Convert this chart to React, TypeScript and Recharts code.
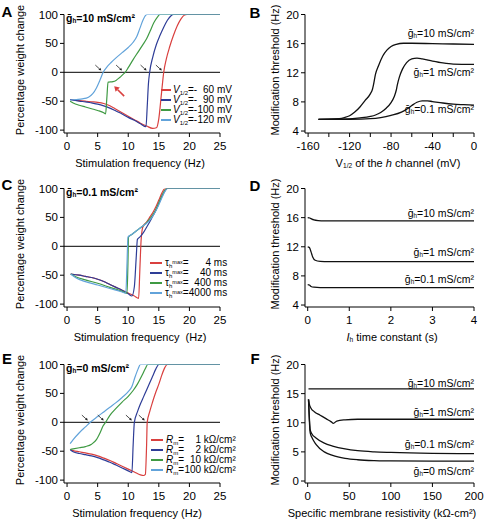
import React from 'react';
import { LineChart, Line, XAxis, YAxis, ReferenceLine, ReferenceDot } from 'recharts';

const FONT = '"Liberation Sans", Arial, Helvetica, sans-serif';
const COLORS = ['#d9403f', '#2e3d97', '#3f9a43', '#62a3da'];

// A: gh = 10 mS/cm2, different V1/2 (frequency Hz, % weight change)
const aV60: [number, number][] = [[0.5,-47],[1,-48],[2,-49],[3,-50],[4,-51],[5,-52],[6,-54],[7,-58],[8,-64],[9,-70],[10,-76],[11,-82],[12,-88],[13,-93],[14,-97],[14.6,-96],[15,-80],[15.4,-40],[15.8,0],[16.2,22],[16.8,45],[17.4,64],[18,80],[18.6,92],[19.2,99],[19.6,100],[25,100]];
const aV90: [number, number][] = [[0.5,-47],[1,-48],[2,-50],[3,-51],[4,-53],[5,-55],[6,-58],[7,-62],[8,-67],[9,-72],[10,-78],[11,-83],[12,-89],[12.9,-94],[13.1,-60],[13.3,-20],[13.5,0],[14,26],[14.6,48],[15.2,64],[15.8,78],[16.4,90],[17,98],[17.4,100],[25,100]];
const aV100: [number, number][] = [[0.5,-50],[1,-53],[2,-57],[3,-60],[4,-63],[5,-66],[6,-70],[6.3,-72],[6.5,-45],[6.7,-17],[7.5,-16],[8,-14],[8.6,-9],[9.1,-4],[9.5,0],[10,8],[10.8,22],[11.6,35],[12.4,48],[13,58],[13.6,72],[14.2,86],[14.8,96],[15.2,100],[25,100]];
const aV120: [number, number][] = [[0.5,-48],[1.5,-47],[2.5,-46],[3.5,-43],[4.2,-37],[4.8,-27],[5.4,-13],[5.9,0],[6.5,9],[7.2,17],[8,25],[9,34],[10,43],[10.8,52],[11.4,62],[11.9,76],[12.4,90],[12.8,98],[13.1,100],[25,100]];

// C: gh = 0.1 mS/cm2, different tau_h max
const cTau4: [number, number][] = [[0.6,-48],[2,-50],[3,-52],[4,-54],[5,-57],[6,-61],[7,-66],[8,-71],[9,-76],[10,-81],[11,-86],[11.7,-90],[11.9,-40],[12.1,10],[12.3,30],[12.5,36],[13,42],[13.5,50],[14,58],[14.5,68],[15,80],[15.5,92],[15.9,99],[16.2,100],[25,100]];
const cTau40: [number, number][] = [[0.6,-48],[2,-50],[3,-52],[4,-54],[5,-57],[6,-61],[7,-66],[8,-71],[9,-76],[10,-82],[10.6,-86],[11,-70],[11.3,-20],[11.5,12],[12,17],[12.5,24],[13,33],[13.5,42],[14,52],[14.5,62],[15,74],[15.5,86],[16,96],[16.4,100],[25,100]];
const cTau400: [number, number][] = [[0.6,-48],[1.5,-53],[3,-58],[5,-64],[7,-71],[9,-78],[9.8,-81],[9.95,-30],[10.05,16],[10.5,20],[11,24],[11.5,28],[12,32],[12.5,36],[13,41],[13.5,47],[14,54],[14.5,63],[15,75],[15.5,87],[16,97],[16.3,100],[25,100]];
const cTau4000: [number, number][] = [[0.6,-48],[1.5,-55],[3,-61],[5,-67],[7,-73],[9,-79],[9.6,-81],[9.8,-30],[9.95,16],[10.5,20],[11,24],[11.5,28],[12,32],[12.5,36],[13,40],[13.5,45],[14,52],[14.5,61],[15,72],[15.5,84],[16,95],[16.4,100],[25,100]];

// E: gh = 0, different Rm
const eRm1: [number, number][] = [[0.5,-47],[1,-49],[2,-51],[3,-53],[4,-55],[5,-58],[6,-62],[7,-66],[8,-71],[9,-76],[10,-81],[11,-86],[12,-91],[12.5,-92],[12.8,-90],[13,-40],[13.1,0],[13.5,18],[14,36],[14.5,52],[15,66],[15.5,82],[16,95],[16.4,100],[25,100]];
const eRm2: [number, number][] = [[0.5,-47],[1,-51],[2,-54],[3,-56],[4,-58],[5,-61],[6,-65],[7,-69],[8,-74],[9,-79],[10,-84],[10.6,-87],[10.8,-40],[11,0],[11.5,18],[12,32],[12.5,44],[13,56],[13.5,68],[14,80],[14.5,92],[15,100],[25,100]];
const eRm10: [number, number][] = [[0.5,-47],[1,-46],[2,-44],[3,-42],[4,-38],[4.8,-30],[5.4,-18],[5.9,-6],[6.3,0],[7,12],[8,24],[9,35],[10,45],[10.8,55],[11.5,66],[12.2,80],[12.8,93],[13.2,100],[25,100]];
const eRm100: [number, number][] = [[0.5,-37],[1,-30],[2,-18],[3,-8],[3.8,0],[5,10],[6,18],[7,26],[8,34],[9,43],[10,53],[10.6,62],[11.1,78],[11.6,92],[12,100],[25,100]];

// B: threshold vs V1/2
const bG10: [number, number][] = [[-150,5.6],[-140,5.62],[-130,5.7],[-125,5.85],[-120,6.1],[-115,6.6],[-110,7.3],[-105,8.2],[-100,9.1],[-98,9.7],[-97,10.3],[-95,11.8],[-92,13.0],[-88,14.3],[-84,15.1],[-80,15.6],[-75,15.9],[-68,16.05],[-60,16.05],[-40,16.0],[-20,15.95],[0,15.9]];
const bG1: [number, number][] = [[-150,5.6],[-130,5.62],[-120,5.68],[-110,5.8],[-100,6.0],[-95,6.2],[-90,6.55],[-85,7.1],[-80,7.9],[-77,8.7],[-75,9.6],[-74,10.3],[-72,11.4],[-69,12.5],[-65,13.4],[-60,13.9],[-55,14.0],[-50,13.9],[-40,13.6],[-30,13.35],[-20,13.2],[0,13.15]];
const bG01: [number, number][] = [[-150,5.6],[-120,5.62],[-100,5.7],[-90,5.85],[-80,6.15],[-70,6.6],[-65,7.0],[-60,7.5],[-55,7.95],[-50,8.15],[-45,8.15],[-40,8.05],[-30,7.85],[-20,7.7],[-10,7.62],[0,7.55]];

// D: threshold vs Ih time constant
const dG10: [number, number][] = [[0,16.0],[0.05,15.95],[0.1,15.8],[0.15,15.7],[0.25,15.6],[0.4,15.55],[1,15.55],[4,15.55]];
const dG1: [number, number][] = [[0,12.0],[0.04,11.9],[0.08,11.3],[0.12,10.6],[0.18,10.15],[0.3,10.0],[0.5,9.95],[1,9.95],[4,9.95]];
const dG01: [number, number][] = [[0,6.8],[0.04,6.75],[0.08,6.55],[0.15,6.45],[0.3,6.4],[4,6.4]];

// F: threshold vs membrane resistivity
const fG10: [number, number][] = [[1,15.8],[50,15.8],[100,15.8],[200,15.8]];
const fG1: [number, number][] = [[1,14.0],[2,13.2],[4,12.5],[8,11.9],[15,11.3],[22,10.7],[28,10.2],[31,9.9],[35,10.3],[45,10.5],[60,10.6],[100,10.6],[200,10.6]];
const fG01: [number, number][] = [[1,14.0],[2,11],[3,8.8],[5,8.1],[10,7.4],[20,6.5],[30,6.0],[45,5.5],[60,5.2],[80,5.0],[100,4.9],[150,4.75],[200,4.7]];
const fG0: [number, number][] = [[1,14.0],[2,10.5],[3,8.3],[5,7.5],[10,6.3],[20,5.0],[30,4.4],[45,3.9],[60,3.65],[80,3.5],[100,3.45],[150,3.4],[200,3.4]];

// ticks
const freqTicks = [0, 5, 10, 15, 20, 25];
const pctTicks = [-100, -50, 0, 50, 100];
const vhTicks = [-160, -140, -120, -100, -80, -60, -40, -20, 0];
const thrTicks = [4, 8, 12, 16, 20];
const tauTicks = [0, 1, 2, 3, 4];
const rmTicks = [0, 50, 100, 150, 200];
const thrTicksF = [0, 5, 10, 15, 20];

// legend / label text
const vHalfLabels = ['60', '90', '100', '120'];
const tauLabels = ['4', '40', '400', '4000'];
const rmLabels = ['1', '2', '10', '100'];
const ghLabels3 = ['10', '1', '0.1'];
const ghLabels4 = ['10', '1', '0.1', '0'];

// zero-crossing arrows
const aArrows = [5.6, 9.0, 13.0, 15.5];
const eArrows = [3.4, 6.0, 10.6, 12.7];

const pts = (p: [number, number][]) => p.map(([x, y]) => ({ x, y }));

const Sub = ({ children }: { children: React.ReactNode }) => (
  <span style={{ fontSize: '0.6em', verticalAlign: '-0.25em', lineHeight: 0 }}>{children}</span>
);
const Sup = ({ children }: { children: React.ReactNode }) => (
  <span style={{ fontSize: '0.55em', verticalAlign: '0.45em', lineHeight: 0 }}>{children}</span>
);
const GLabel = ({ v }: { v: string }) => (
  <>ḡ<Sub>h</Sub>={v} mS/cm²</>
);

function arrowShape(color: string, dx: number, dy: number, w: number, hl: number, hw: number) {
  return (p: any) => {
    const { cx, cy } = p;
    const x0 = cx + dx;
    const y0 = cy + dy;
    const a = Math.atan2(cy - y0, cx - x0);
    const bx = cx - hl * Math.cos(a);
    const by = cy - hl * Math.sin(a);
    const s = Math.sin(a);
    const c = Math.cos(a);
    return (
      <g>
        <line x1={x0} y1={y0} x2={bx} y2={by} stroke={color} strokeWidth={w} />
        <polygon
          points={`${cx},${cy} ${bx - hw * s},${by + hw * c} ${bx + hw * s},${by - hw * c}`}
          fill={color}
        />
      </g>
    );
  };
}

interface Series {
  data: [number, number][];
  color: string;
  w?: number;
}

interface PanelProps {
  left: number;
  top: number;
  axisX: number;
  plotRight: number;
  xDomain: [number, number];
  xTicks: number[];
  xFmt?: (v: number) => string;
  yDomain: [number, number];
  yTicks: number[];
  series: Series[];
  zeroLine?: boolean;
  arrows?: number[];
  redArrow?: [number, number];
}

function Panel({ left, top, axisX, plotRight, xDomain, xTicks, xFmt, yDomain, yTicks, series, zeroLine, arrows, redArrow }: PanelProps) {
  const tick = { fill: '#000', fontSize: 11.5, fontFamily: FONT };
  return (
    <div style={{ position: 'absolute', left, top }}>
      <LineChart width={242} height={165} margin={{ top: 14.5, right: 242 - plotRight, bottom: 2, left: 0 }}>
        <XAxis
          type="number"
          dataKey="x"
          domain={xDomain}
          ticks={xTicks}
          interval={0}
          allowDataOverflow
          tickFormatter={xFmt}
          height={30}
          tickSize={4}
          tickMargin={5}
          axisLine={{ stroke: '#000' }}
          tickLine={{ stroke: '#000' }}
          tick={tick}
        />
        <YAxis
          type="number"
          domain={yDomain}
          ticks={yTicks}
          interval={0}
          allowDataOverflow
          width={axisX}
          tickSize={4}
          tickMargin={2}
          axisLine={{ stroke: '#000' }}
          tickLine={{ stroke: '#000' }}
          tick={tick}
        />
        {zeroLine && <ReferenceLine y={0} stroke="#000" strokeWidth={1} />}
        {series.map((s, i) => (
          <Line
            key={i}
            data={pts(s.data)}
            dataKey="y"
            type="monotone"
            stroke={s.color}
            strokeWidth={s.w ?? 1.2}
            dot={false}
            isAnimationActive={false}
          />
        ))}
        {arrows?.map((x, i) => (
          <ReferenceDot key={'a' + i} x={x} y={3} r={0} shape={arrowShape('#222', -6, -5.5, 0.8, 2.6, 1.4)} />
        ))}
        {redArrow && (
          <ReferenceDot x={redArrow[0]} y={redArrow[1]} r={0} shape={arrowShape(COLORS[0], 10, 10, 1.6, 5, 3)} />
        )}
      </LineChart>
    </div>
  );
}

const T = ({ x, y, anchor = 'start', children, style }: { x: number; y: number; anchor?: string; children: React.ReactNode; style?: React.CSSProperties }) => {
  const tx = anchor === 'end' ? '-100%' : anchor === 'middle' ? '-50%' : '0';
  return (
    <div style={{ position: 'absolute', left: x, top: y, transform: `translate(${tx}, -50%)`, whiteSpace: 'pre', lineHeight: 1, ...style }}>
      {children}
    </div>
  );
};

const YTitle = ({ x, y, children }: { x: number; y: number; children: React.ReactNode }) => (
  <div style={{ position: 'absolute', left: x, top: y, transform: 'translate(-50%, -50%) rotate(-90deg)', whiteSpace: 'nowrap', lineHeight: 1, fontSize: 11 }}>
    {children}
  </div>
);

const Letter = ({ x, y, children }: { x: number; y: number; children: React.ReactNode }) => (
  <div style={{ position: 'absolute', left: x, top: y, transform: 'translate(-50%, -50%)', fontWeight: 'bold', fontSize: 15, lineHeight: 1 }}>
    {children}
  </div>
);

function LegendRows({ x0, len, tx, y0, labels, numW, render }: { x0: number; len: number; tx: number; y0: number; labels: string[]; numW: string; render: (n: React.ReactNode) => React.ReactNode }) {
  return (
    <>
      {labels.map((l, i) => (
        <React.Fragment key={i}>
          <div style={{ position: 'absolute', left: x0, top: y0 + i * 10 - 1, width: len, height: 2, background: COLORS[i] }} />
          <T x={tx} y={y0 + i * 10} style={{ fontSize: 10 }}>
            {render(<span style={{ display: 'inline-block', width: numW, textAlign: 'right' }}>{l}</span>)}
          </T>
        </React.Fragment>
      ))}
    </>
  );
}

export default function App() {
  const colorSeries = (arr: [number, number][][]) => arr.map((d, i) => ({ data: d, color: COLORS[i] }));
  const black = (arr: [number, number][][]) => arr.map((d) => ({ data: d, color: '#111', w: 1.3 }));
  const minorFmt = (v: number) => (v % 40 === 0 ? String(v) : '');
  return (
    <div style={{ position: 'absolute', left: 0, top: 0, width: 484, height: 519, overflow: 'hidden', background: '#fff', fontFamily: FONT, color: '#000' }}>
      {/* A */}
      <Panel left={0} top={0} axisX={64} plotRight={220} xDomain={[-0.5, 25]} xTicks={freqTicks} yDomain={[-105, 100]} yTicks={pctTicks}
        series={colorSeries([aV60, aV90, aV100, aV120])} zeroLine arrows={aArrows} redArrow={[7.7, -24]} />
      {/* B */}
      <Panel left={242} top={0} axisX={63} plotRight={232} xDomain={[-163, 0]} xTicks={vhTicks} xFmt={minorFmt} yDomain={[3.73, 20]} yTicks={thrTicks}
        series={black([bG10, bG1, bG01])} />
      {/* C */}
      <Panel left={0} top={174} axisX={64} plotRight={220} xDomain={[-0.5, 25]} xTicks={freqTicks} yDomain={[-105, 100]} yTicks={pctTicks}
        series={colorSeries([cTau4, cTau40, cTau400, cTau4000])} zeroLine />
      {/* D */}
      <Panel left={242} top={174} axisX={63} plotRight={232} xDomain={[-0.065, 4]} xTicks={tauTicks} yDomain={[3.73, 20]} yTicks={thrTicks}
        series={black([dG10, dG1, dG01])} />
      {/* E */}
      <Panel left={0} top={350} axisX={64} plotRight={220} xDomain={[-0.5, 25]} xTicks={freqTicks} yDomain={[-105, 100]} yTicks={pctTicks}
        series={colorSeries([eRm1, eRm2, eRm10, eRm100])} zeroLine arrows={eArrows} />
      {/* F */}
      <Panel left={242} top={350} axisX={63} plotRight={232} xDomain={[-3.2, 200]} xTicks={rmTicks} yDomain={[-0.34, 20]} yTicks={thrTicksF}
        series={black([fG10, fG1, fG01, fG0])} />

      {/* panel letters */}
      <Letter x={7} y={11}>A</Letter>
      <Letter x={255} y={12}>B</Letter>
      <Letter x={7} y={184}>C</Letter>
      <Letter x={255} y={185}>D</Letter>
      <Letter x={7} y={358}>E</Letter>
      <Letter x={255} y={358}>F</Letter>

      {/* axis titles */}
      <YTitle x={20} y={70}>Percentage weight change</YTitle>
      <YTitle x={20} y={244}>Percentage weight change</YTitle>
      <YTitle x={20} y={420}>Percentage weight change</YTitle>
      <YTitle x={275} y={70}>Modification threshold (Hz)</YTitle>
      <YTitle x={275} y={244}>Modification threshold (Hz)</YTitle>
      <YTitle x={275} y={420}>Modification threshold (Hz)</YTitle>

      <T x={140} y={163} anchor="middle" style={{ fontSize: 11 }}>Stimulation frequency (Hz)</T>
      <T x={140} y={337} anchor="middle" style={{ fontSize: 11 }}>Stimulation frequency  (Hz)</T>
      <T x={137} y={513} anchor="middle" style={{ fontSize: 11 }}>Stimulation frequency (Hz)</T>
      <T x={398} y={163} anchor="middle" style={{ fontSize: 11 }}>V<Sub>1/2</Sub> of the <i>h</i> channel (mV)</T>
      <T x={392} y={337} anchor="middle" style={{ fontSize: 11 }}><i>I</i><Sub>h</Sub> time constant (s)</T>
      <T x={382} y={513} anchor="middle" style={{ fontSize: 11 }}>Specific membrane resistivity (kΩ-cm²)</T>

      {/* in-plot labels, left column */}
      <T x={66} y={18} style={{ fontSize: 10.5, fontWeight: 'bold' }}><GLabel v="10" /></T>
      <T x={66} y={192} style={{ fontSize: 10.5, fontWeight: 'bold' }}><GLabel v="0.1" /></T>
      <T x={66} y={368} style={{ fontSize: 10.5, fontWeight: 'bold' }}><GLabel v="0" /></T>

      {/* legends */}
      <LegendRows x0={161} len={10} tx={173} y0={90} labels={vHalfLabels} numW="1.7em"
        render={(n) => <><i>V</i><Sub>1/2</Sub>=-{n} mV</>} />
      <LegendRows x0={150} len={12} tx={165} y0={263} labels={tauLabels} numW="2.25em"
        render={(n) => <>τ<Sub>h</Sub><Sup>max</Sup>={n} ms</>} />
      <LegendRows x0={151} len={12} tx={166} y0={440} labels={rmLabels} numW="1.7em"
        render={(n) => <><i>R</i><Sub>m</Sub>={n} kΩ/cm²</>} />

      {/* right column curve labels */}
      {ghLabels3.map((g, i) => (
        <T key={'b' + i} x={474} y={[33, 72, 109][i]} anchor="end" style={{ fontSize: 10.5 }}><GLabel v={g} /></T>
      ))}
      {ghLabels3.map((g, i) => (
        <T key={'d' + i} x={474} y={[213, 251.5, 278.5][i]} anchor="end" style={{ fontSize: 10.5 }}><GLabel v={g} /></T>
      ))}
      {ghLabels4.map((g, i) => (
        <T key={'f' + i} x={474} y={[382.5, 411.5, 444, 471][i]} anchor="end" style={{ fontSize: 10.5 }}><GLabel v={g} /></T>
      ))}
    </div>
  );
}
